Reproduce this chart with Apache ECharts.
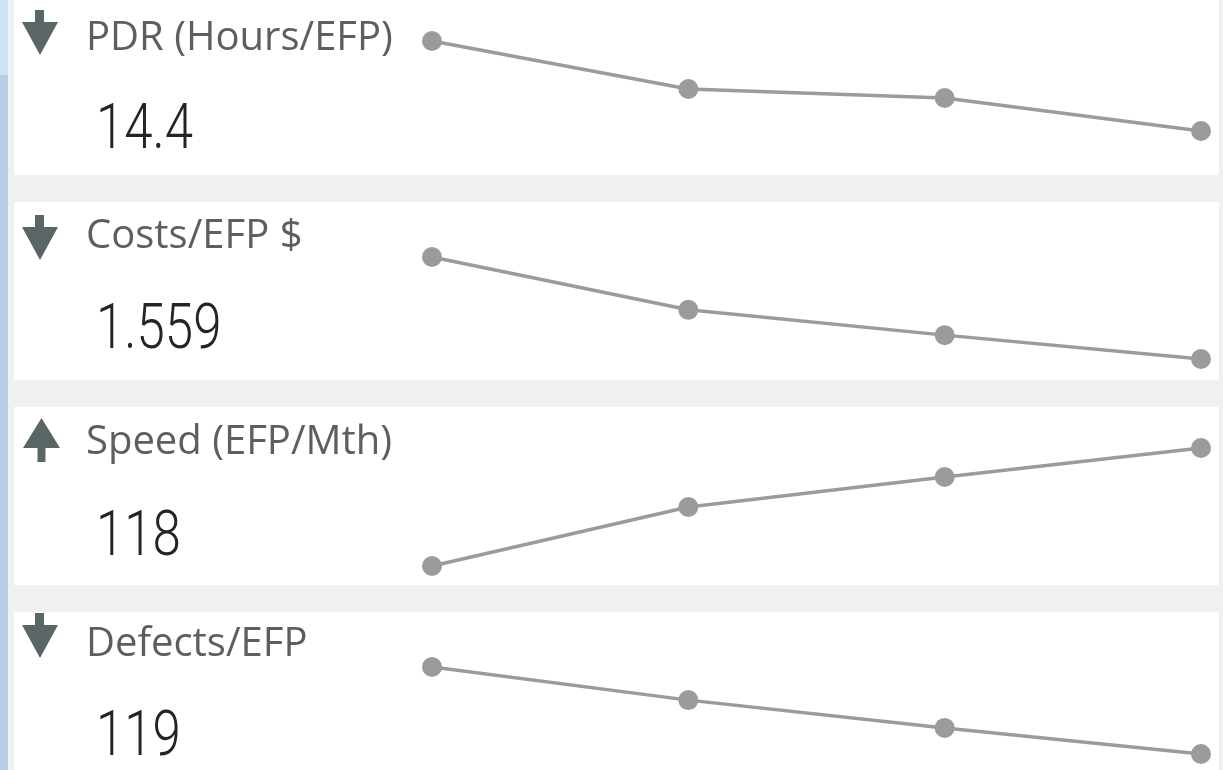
<!DOCTYPE html>
<html>
<head>
<meta charset="utf-8">
<script src="https://cdn.jsdelivr.net/npm/echarts@6/dist/echarts.min.js"></script>
<style>
  html, body { margin: 0; padding: 0; background: #f0f0f0; }
  #chart { width: 1223px; height: 770px; }
</style>
</head>
<body>
<div id="chart"></div>
<script>
// data
const periods = ['P1', 'P2', 'P3', 'P4'];
const kpiNames = ['PDR (Hours/EFP)', 'Costs/EFP $', 'Speed (EFP/Mth)', 'Defects/EFP'];
const kpiValues = ['14.4', '1.559', '118', '119'];
const trendDirections = ['down', 'down', 'up', 'down'];
const pdrSeries = [17.1, 15.66, 15.39, 14.4];
const costSeries = [1700, 1627, 1592, 1559];
const speedSeries = [94, 106, 112.1, 118];
const defectSeries = [150, 138.2, 128.3, 119];
const allSeries = [pdrSeries, costSeries, speedSeries, defectSeries];

// layout (pixels)
const panelTops = [-3, 202, 407, 612];
const arrowTops = [10, 215, 418, 613];
const titleTops = [22, 220, 426, 628];
const numberTops = [103, 303, 510, 710];
const sparkTops = [41, 257, 448, 667];
const sparkHeights = [90, 102, 118, 87];

const ARROW = '#5a6566';
const LINE = '#9b9b9b';

const chart = echarts.init(document.getElementById('chart'));

const graphic = [
  { type: 'rect', shape: { x: 0, y: 0, width: 8, height: 75 }, style: { fill: '#cde2f4' }, silent: true },
  { type: 'rect', shape: { x: 0, y: 75, width: 8, height: 695 }, style: { fill: '#b8cce2' }, silent: true },
];

const arrowShapes = (dir, top) => {
  if (dir === 'down') {
    return [
      { type: 'rect', shape: { x: 35, y: top, width: 9, height: 14 }, style: { fill: ARROW } },
      { type: 'polygon', shape: { points: [[22, top + 12], [58, top + 12], [40, top + 45]] }, style: { fill: ARROW } },
    ];
  }
  return [
    { type: 'polygon', shape: { points: [[23, top + 30], [60, top + 30], [41.5, top]] }, style: { fill: ARROW } },
    { type: 'rect', shape: { x: 37.5, y: top + 29, width: 8, height: 15 }, style: { fill: ARROW } },
  ];
};

kpiNames.forEach((name, i) => {
  graphic.push({
    type: 'rect', silent: true,
    shape: { x: 14, y: panelTops[i], width: 1205, height: 178 },
    style: { fill: '#ffffff' },
    z: -10
  });
  arrowShapes(trendDirections[i], arrowTops[i]).forEach((s) => graphic.push(s));
  graphic.push({
    type: 'text', x: 86, y: titleTops[i] - 3,
    style: {
      text: name, fill: '#605e5c',
      font: '40px "Open Sans"', verticalAlign: 'top'
    }
  });
  graphic.push({
    type: 'text', x: 96, y: numberTops[i] - 2, scaleX: 0.81,
    style: {
      text: kpiValues[i], fill: '#252423',
      font: '300 63px Roboto', verticalAlign: 'top'
    }
  });
});

const grids = [];
const xAxes = [];
const yAxes = [];
const series = [];
allSeries.forEach((values, i) => {
  grids.push({ left: 432, right: 22, top: sparkTops[i], height: sparkHeights[i] });
  xAxes.push({ type: 'category', gridIndex: i, data: periods, boundaryGap: false, show: false });
  yAxes.push({ type: 'value', gridIndex: i, min: 'dataMin', max: 'dataMax', show: false });
  series.push({
    type: 'line',
    xAxisIndex: i,
    yAxisIndex: i,
    data: values,
    clip: false,
    symbol: 'circle',
    symbolSize: 20,
    lineStyle: { color: LINE, width: 3.5 },
    itemStyle: { color: LINE },
    animation: false
  });
});

chart.setOption({
  backgroundColor: '#f0f0f0',
  animation: false,
  grid: grids,
  xAxis: xAxes,
  yAxis: yAxes,
  graphic: graphic,
  series: series
});
</script>
</body>
</html>
